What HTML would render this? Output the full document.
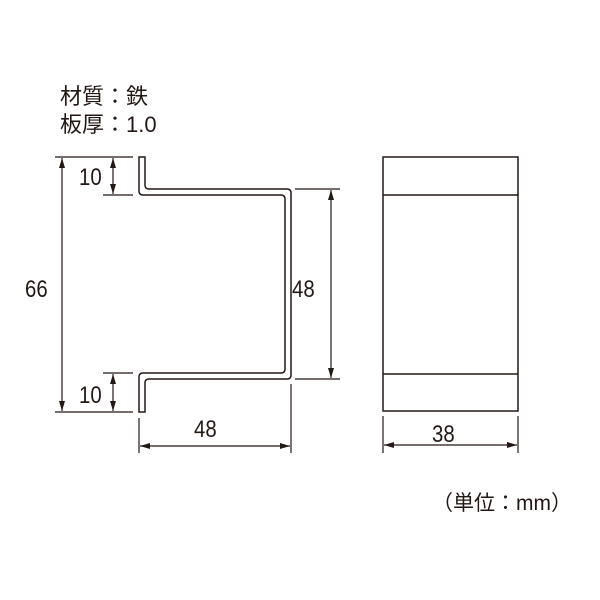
<!DOCTYPE html>
<html><head><meta charset="utf-8"><style>
html,body{margin:0;padding:0;background:#fff;width:600px;height:600px;overflow:hidden}
svg{display:block}
text{font-family:"Liberation Sans","Noto Sans CJK JP",sans-serif;fill:#231815}
</style></head><body>
<svg width="600" height="600" viewBox="0 0 600 600" xmlns="http://www.w3.org/2000/svg">
<defs>
<marker id="a" viewBox="0 0 10 6" refX="10" refY="3" markerWidth="10" markerHeight="6" orient="auto-start-reverse" markerUnits="userSpaceOnUse">
<path d="M0,0 L10,3 L0,6 z" fill="#231815"/></marker>
</defs>
<text x="60" y="104" font-size="22">材質：鉄</text>
<text x="60" y="132" font-size="22">板厚：1.0</text>
<g fill="none" stroke="#231815" stroke-width="1.5">
<path d="M139,157 L139,191 Q139,195 143,195 L281,195 Q285,195 285,199 L285,369 Q285,373 281,373 L143,373 Q139,373 139,377 L139,412 L145,412 L145,383 Q145,379 149,379 L287,379 Q291,379 291,375 L291,193 Q291,189 287,189 L149,189 Q145,189 145,185 L145,157 Z"/>
<rect x="383" y="157" width="135" height="254"/>
<line x1="383" y1="195" x2="518" y2="195"/>
<line x1="383" y1="374" x2="518" y2="374"/>
</g>
<g stroke="#231815" stroke-width="1.2" fill="none">
<line x1="55" y1="157" x2="133" y2="157"/>
<line x1="55" y1="412" x2="133" y2="412"/>
<line x1="103" y1="195" x2="133" y2="195"/>
<line x1="103" y1="373" x2="133" y2="373"/>
<line x1="62" y1="158" x2="62" y2="411" marker-start="url(#a)" marker-end="url(#a)"/>
<line x1="113" y1="158" x2="113" y2="194" marker-start="url(#a)" marker-end="url(#a)"/>
<line x1="113" y1="374" x2="113" y2="411" marker-start="url(#a)" marker-end="url(#a)"/>
<line x1="295" y1="189" x2="340" y2="189"/>
<line x1="295" y1="379" x2="340" y2="379"/>
<line x1="331" y1="190" x2="331" y2="378" marker-start="url(#a)" marker-end="url(#a)"/>
<line x1="139" y1="418" x2="139" y2="453"/>
<line x1="291" y1="384" x2="291" y2="453"/>
<line x1="140" y1="446" x2="290" y2="446" marker-start="url(#a)" marker-end="url(#a)"/>
<line x1="383" y1="416" x2="383" y2="453"/>
<line x1="518" y1="416" x2="518" y2="453"/>
<line x1="384" y1="445" x2="517" y2="445" marker-start="url(#a)" marker-end="url(#a)"/>
</g>
<g font-size="24">
<text transform="translate(25,297) scale(0.85,1)">66</text>
<text transform="translate(79,185) scale(0.85,1)">10</text>
<text transform="translate(79,403) scale(0.85,1)">10</text>
<text transform="translate(292,297) scale(0.85,1)">48</text>
<text transform="translate(194,437) scale(0.85,1)">48</text>
<text transform="translate(432,442) scale(0.85,1)">38</text>
</g>
<text x="432" y="510" font-size="21">（単位：mm）</text>
</svg>
</body></html>
